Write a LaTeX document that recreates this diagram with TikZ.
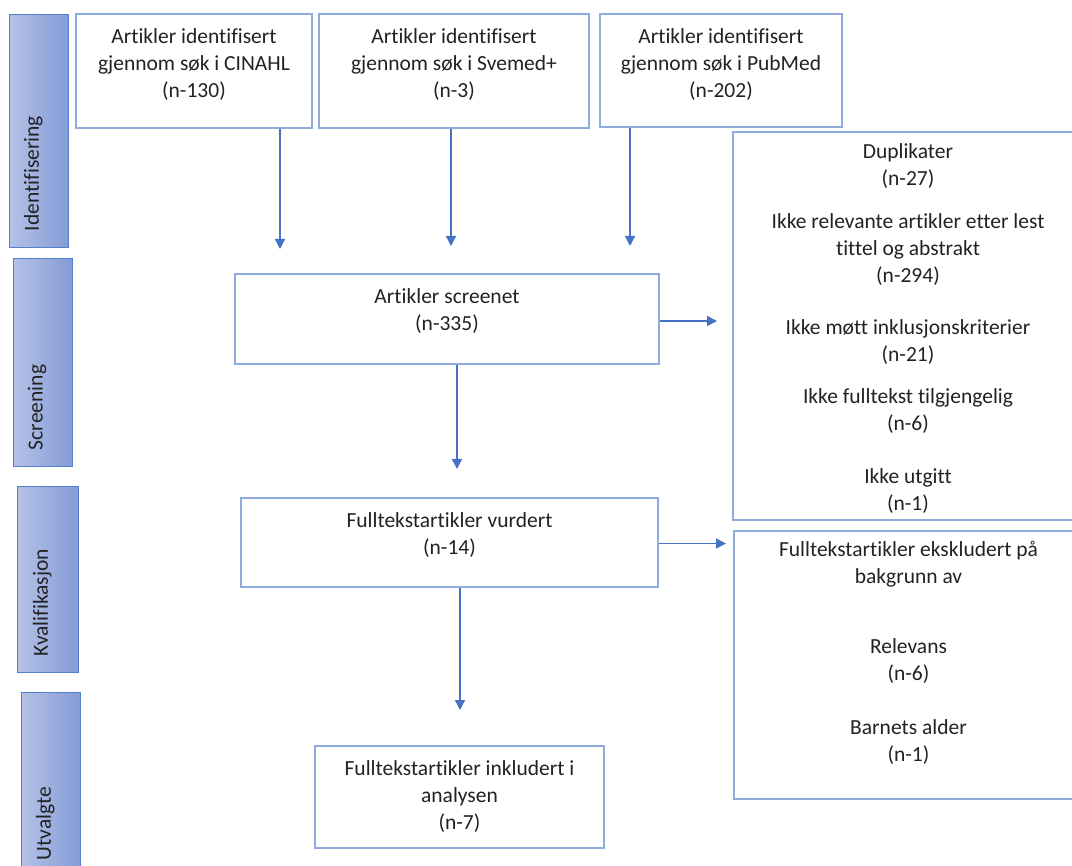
\documentclass[tikz,border=0pt]{standalone}
\usepackage{fontspec}
\setmainfont{Carlito}[Ligatures=NoCommon]
\usetikzlibrary{arrows.meta,positioning,calc}
\definecolor{ink}{RGB}{34,34,34}
\definecolor{phaseleft}{RGB}{180,193,231}
\definecolor{phaseright}{RGB}{132,155,213}
\definecolor{phasedraw}{RGB}{84,126,206}
\definecolor{boxdraw}{RGB}{143,170,220}
\definecolor{flowblue}{RGB}{68,114,196}
\newcommand{\BoxFont}{\fontsize{21.5}{27}\selectfont}
\tikzset{
  phase/.style={draw=phasedraw, line width=1.3pt, left color=phaseleft, right color=phaseright, inner sep=0pt, anchor=north west},
  phasetext/.style={rotate=90, anchor=west, font=\BoxFont, text=ink, inner sep=0pt},
  box/.style={draw=boxdraw, line width=2pt, fill=white, inner sep=0pt, anchor=north west},
  boxtext/.style={align=center, font=\BoxFont, text=ink, inner sep=0pt},
  flow/.style={-{Triangle[length=10pt, width=10pt]}, line width=1.4pt, draw=flowblue, fill=flowblue}
}
\begin{document}
\begin{tikzpicture}[x=1pt, y=-1pt]
  \useasboundingbox (0,0) rectangle (1072,866);
  \clip (0,0) rectangle (1072,866);
  % phase bars on the left
  \node[phase, minimum width=59, minimum height=233] (ident) at (9,14) {};
  \node[phase, minimum width=59, minimum height=208] (screen) at (13,258) {};
  \node[phase, minimum width=61, minimum height=186] (kval) at (17,486) {};
  \node[phase, minimum width=59, minimum height=184] (utv) at (21,692) {};
  \node[phasetext] (identlbl) at ([xshift=-6, yshift=17]ident.south) {Identifisering};
  \node[phasetext] (screenlbl) at ([xshift=-6, yshift=17]screen.south) {Screening};
  \node[phasetext] (kvallbl) at ([xshift=-6, yshift=17]kval.south) {Kvalifikasjon};
  \node[phasetext] (utvlbl) at ([xshift=-6, yshift=17]utv.south) {Utvalgte};
  % search boxes
  \node[box, minimum width=236, minimum height=114] (cinahl) at (75,13) {};
  \node[box, minimum width=270, minimum height=114] (svemed) at (318,13) {};
  \node[box, minimum width=242, minimum height=113] (pubmed) at (599,13) {};
  \node[boxtext] (cinahltxt) at ([yshift=6]cinahl.center) {Artikler identifisert\\gjennom søk i CINAHL\\(n-130)};
  \node[boxtext] (svemedtxt) at ([yshift=6]svemed.center) {Artikler identifisert\\gjennom søk i Svemed+\\(n-3)};
  \node[boxtext] (pubmedtxt) at ([yshift=6]pubmed.center) {Artikler identifisert\\gjennom søk i PubMed\\(n-202)};
  % flow boxes
  \node[box, minimum width=424, minimum height=90] (scr) at (234,273) {};
  \node[box, minimum width=417, minimum height=89] (vurd) at (240,497) {};
  \node[box, minimum width=289, minimum height=102] (inkl) at (314,745) {};
  \node[boxtext] (scrtxt) at ([yshift=8]scr.center) {Artikler screenet\\(n-335)};
  \node[boxtext] (vurdtxt) at ([yshift=7]vurd.center) {Fulltekstartikler vurdert\\(n-14)};
  \node[boxtext] (inkltxt) at (inkl.center) {Fulltekstartikler inkludert i\\analysen\\(n-7)};
  % exclusion boxes
  \node[box, minimum width=350, minimum height=388] (excla) at (732,131) {};
  \node[box, minimum width=349, minimum height=268] (exclb) at (733,530) {};
  \node[boxtext] (exclatxt) at ([yshift=-3]excla.center) {Duplikater\\(n-27)\\[16pt]Ikke relevante artikler etter lest\\tittel og abstrakt\\(n-294)\\[25pt]Ikke møtt inklusjonskriterier\\(n-21)\\[15pt]Ikke fulltekst tilgjengelig\\(n-6)\\[26pt]Ikke utgitt\\(n-1)};
  \node[boxtext] (exclbtxt) at ([yshift=12]exclb.center) {Fulltekstartikler ekskludert på\\bakgrunn av\\[43pt]Relevans\\(n-6)\\[27pt]Barnets alder\\(n-1)};
  % arrows
  \draw[flow, shorten >=24] ([xshift=86]cinahl.south) -- ([xshift=86]cinahl.south |- scr.north);
  \draw[flow, shorten >=27] ([xshift=-3]svemed.south) -- ([xshift=-3]svemed.south |- scr.north);
  \draw[flow, shorten >=27] ([xshift=-91]pubmed.south) -- ([xshift=-91]pubmed.south |- scr.north);
  \draw[flow, shorten >=15] ([yshift=-2]scr.east) -- ([yshift=-2]scr.east -| excla.west);
  \draw[flow, shorten >=28] ([xshift=10]scr.south) -- ([xshift=10]scr.south |- vurd.north);
  \draw[flow, shorten >=7] ([yshift=-1]vurd.east) -- ([yshift=-1]vurd.east -| exclb.west);
  \draw[flow, shorten >=35] ([xshift=0.5]vurd.south -| inkl.north) -- ([xshift=0.5]inkl.north);
\end{tikzpicture}
\end{document}
